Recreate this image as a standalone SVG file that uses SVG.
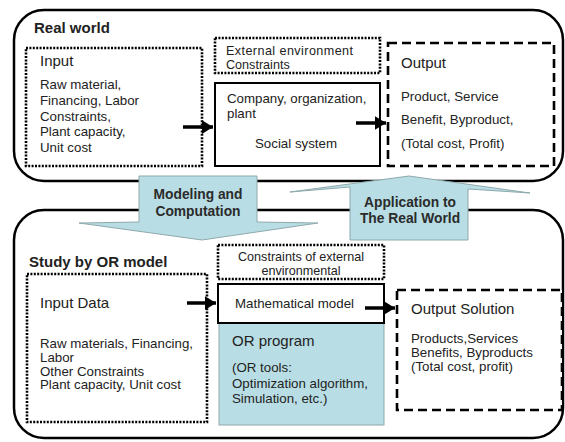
<svg xmlns="http://www.w3.org/2000/svg" width="565" height="442" viewBox="0 0 565 442">
<style>
text{font-family:"Liberation Sans",Arial,sans-serif;fill:#222;}
.t{font-size:13.3px;}
.s{font-size:12.6px;}
.h{font-size:15px;}
.b{font-size:15px;font-weight:bold;}
.ab{font-size:13.8px;font-weight:bold;fill:#2b2b2b;}
.cont{fill:none;stroke:#000;stroke-width:2.5;}
.dot{fill:#fff;stroke:#000;stroke-width:2.6;stroke-dasharray:2 1.4;}
.dash{fill:#fff;stroke:#000;stroke-width:2.6;stroke-dasharray:9 5;}
.solid{fill:#fff;stroke:#000;stroke-width:2;}
.blue{fill:#b8dde4;stroke:#8fa9ad;stroke-width:1;}
.arr{stroke:#000;stroke-width:3.5;fill:none;marker-end:url(#ah);}
</style>
<defs>
<marker id="ah" markerWidth="4" markerHeight="4" refX="3.2" refY="2" orient="auto" markerUnits="strokeWidth">
<path d="M0,0 L3.2,2 L0,4 Z" fill="#000"/>
</marker>
</defs>
<rect width="565" height="442" fill="#fff"/>
<g id="real-world">
<rect class="cont" x="14" y="10" width="549" height="171" rx="30"/>
<text class="b" x="34" y="33">Real world</text>
</g>
<g id="study-or-model">
<rect class="cont" x="14" y="210" width="549" height="228" rx="30"/>
<text class="b" x="29" y="267">Study by OR model</text>
</g>
<g id="input">
<rect class="dot" x="26" y="48" width="176" height="118"/>
<text class="h" x="40" y="66">Input</text>
<text class="t" x="40" y="89">Raw material,</text>
<text class="t" x="40" y="105">Financing, Labor</text>
<text class="t" x="40" y="121">Constraints,</text>
<text class="t" x="40" y="136">Plant capacity,</text>
<text class="t" x="40" y="152">Unit cost</text>
</g>
<g id="external-environment">
<rect class="dot" x="215" y="38" width="165" height="35"/>
<text class="s" x="226" y="55" textLength="127" lengthAdjust="spacing">External environment</text>
<text class="s" x="226" y="68.5">Constraints</text>
</g>
<g id="company">
<rect class="solid" x="215" y="83" width="165" height="83"/>
<text class="t" x="227" y="103">Company, organization,</text>
<text class="t" x="227" y="118">plant</text>
<text class="t" x="296" y="148" text-anchor="middle">Social system</text>
</g>
<g id="output">
<rect class="dash" x="388" y="43" width="166" height="123"/>
<text class="h" x="401" y="68">Output</text>
<text class="t" x="401" y="101">Product, Service</text>
<text class="t" x="401" y="124">Benefit, Byproduct,</text>
<text class="t" x="401" y="148">(Total cost, Profit)</text>
</g>
<g id="constraints-external">
<rect class="dot" x="218" y="245" width="166" height="34"/>
<text class="s" x="301" y="261" text-anchor="middle">Constraints of external</text>
<text class="s" x="301" y="274.5" text-anchor="middle">environmental</text>
</g>
<g id="or-program">
<rect class="blue" x="219" y="323" width="165" height="102"/>
<text class="h" x="232" y="346">OR program</text>
<text class="t" x="232" y="372">(OR tools:</text>
<text class="t" x="232" y="388">Optimization algorithm,</text>
<text class="t" x="232" y="403">Simulation, etc.)</text>
</g>
<g id="mathematical-model">
<rect class="solid" x="218" y="284" width="166" height="39"/>
<text class="t" x="235" y="308">Mathematical model</text>
</g>
<g id="input-data">
<rect class="dot" x="27" y="274" width="180" height="148"/>
<text class="h" x="40" y="308">Input Data</text>
<text class="t" x="40" y="348">Raw materials, Financing,</text>
<text class="t" x="40" y="362">Labor</text>
<text class="t" x="40" y="375.5">Other Constraints</text>
<text class="t" x="40" y="389">Plant capacity, Unit cost</text>
</g>
<g id="output-solution">
<rect class="dash" x="397" y="290" width="165" height="120"/>
<text class="h" x="411" y="314">Output Solution</text>
<text class="t" x="411" y="343">Products,Services</text>
<text class="t" x="411" y="357">Benefits, Byproducts</text>
<text class="t" x="411" y="371">(Total cost, profit)</text>
</g>
<g id="modeling-computation">
<polygon class="blue" points="139,176 257,176 257,222 318,223 202,240 79,223 139,222"/>
<text class="ab" x="198" y="199" text-anchor="middle">Modeling and</text>
<text class="ab" x="198" y="216" text-anchor="middle">Computation</text>
</g>
<g id="application-real-world">
<polygon class="blue" points="350,240 468,240 468,189 530,193 409,176 290,192 350,187"/>
<text class="ab" x="410" y="207" text-anchor="middle">Application to</text>
<text class="ab" x="410" y="223" text-anchor="middle">The Real World</text>
</g>
<g id="connectors">
<line class="arr" x1="183" y1="127" x2="213" y2="127"/>
<line class="arr" x1="356" y1="123" x2="386" y2="123"/>
<line class="arr" x1="187" y1="303" x2="216" y2="303"/>
<line class="arr" x1="365" y1="308" x2="395" y2="308"/>
</g>
</svg>
